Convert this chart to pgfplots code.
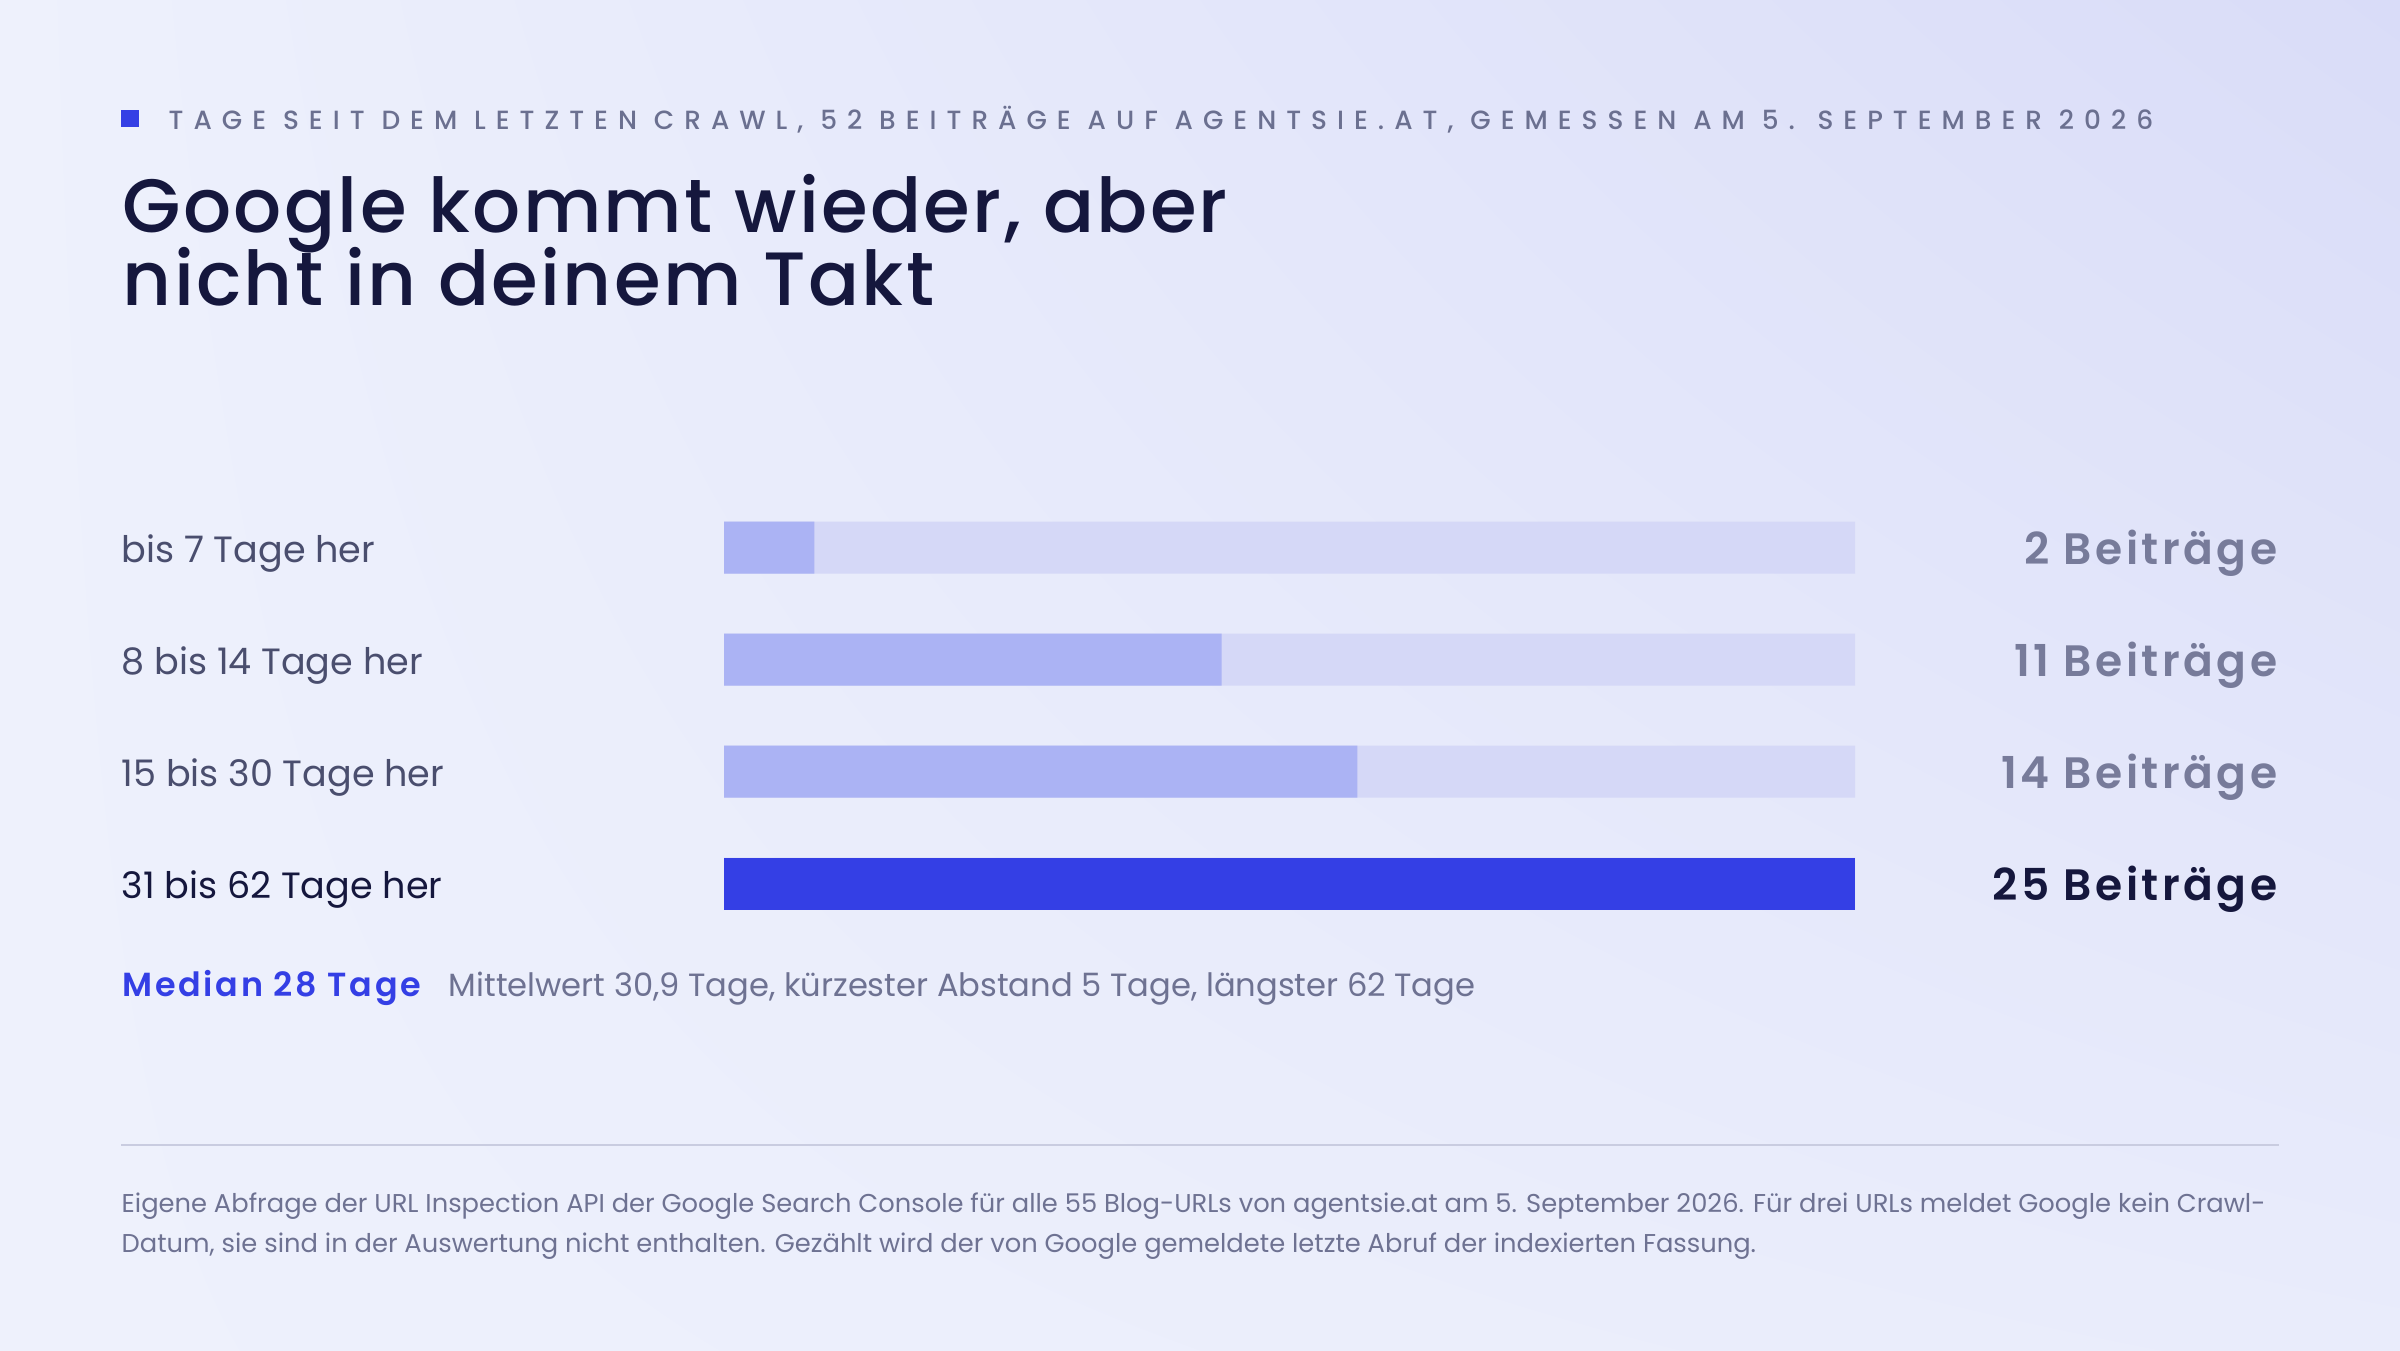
\documentclass[border=0pt]{standalone}
\usepackage{fontspec}
\usepackage{pgfplots}
\pgfplotsset{compat=1.18}
\usetikzlibrary{shadings}
\setmainfont{Poppins}
\newfontfamily\headfont[LetterSpace=38]{Poppins Medium}
\newfontfamily\titlefont[LetterSpace=3]{Poppins Medium}
\newfontfamily\valfont[LetterSpace=8]{Poppins SemiBold}
\newfontfamily\bodyfont{Poppins}

\definecolor{bgA}{HTML}{EEF1FC}
\definecolor{bgB}{HTML}{D9DCF8}
\definecolor{bgC}{HTML}{E9ECFB}
\definecolor{navy}{HTML}{15173D}
\definecolor{grayhead}{HTML}{6B7090}
\definecolor{graylab}{HTML}{4A4E6E}
\definecolor{grayval}{HTML}{777B9A}
\definecolor{graytxt}{HTML}{6E7292}
\definecolor{accent}{HTML}{343FE5}
\definecolor{track}{HTML}{D5D8F7}
\definecolor{lightbar}{HTML}{ABB3F4}
\definecolor{rulec}{HTML}{C9CCE0}

\pgfplotstableread{
row count
0 2
1 11
2 14
3 25
}\counts

\begin{document}
\begin{tikzpicture}
% background, 2400x1350 px -> 24cm x 13.5cm
\shade[upper left=bgA, upper right=bgB, lower left=bgA, lower right=bgC]
  (0,0) rectangle (24,13.5);

% header
\fill[accent] (1.21,12.23) rectangle (1.39,12.40);
\node[anchor=base west, inner sep=0, text=grayhead, font=\headfont\fontsize{7.5pt}{8pt}\selectfont]
  at (1.68,12.20) {TAGE SEIT DEM LETZTEN CRAWL, 52 BEITRÄGE AUF AGENTSIE.AT, GEMESSEN AM 5. SEPTEMBER 2026};

% title
\node[anchor=base west, inner sep=0, text=navy, font=\titlefont\fontsize{21.5pt}{26pt}\selectfont]
  at (1.22,11.17) {Google kommt wieder, aber};
\node[anchor=base west, inner sep=0, text=navy, font=\titlefont\fontsize{21.5pt}{26pt}\selectfont]
  at (1.22,10.44) {nicht in deinem Takt};

% bars
\begin{axis}[
  at={(12.895cm,6.345cm)}, anchor=center,
  scale only axis, width=11.31cm, height=4.48cm,
  xbar, bar width=0.52cm, bar shift=0pt,
  xmin=0, xmax=25, ymin=-0.5, ymax=3.5, y dir=reverse,
  axis line style={draw=none}, major tick length=0pt,
  xtick=\empty, ytick={0,1,2,3},
  yticklabels={
    \textcolor{graylab}{bis 7 Tage her},
    \textcolor{graylab}{8 bis 14 Tage her},
    \textcolor{graylab}{15 bis 30 Tage her},
    \textcolor{navy}{31 bis 62 Tage her}},
  yticklabel style={anchor=mid west, inner sep=0pt, xshift=-6.03cm, yshift=-0.05cm,
    font=\bodyfont\fontsize{10.4pt}{12pt}\selectfont},
  clip=false,
]
\addplot[draw=none, fill=track] coordinates {(25,0) (25,1) (25,2) (25,3)};
\addplot[draw=none, fill=lightbar] coordinates {(2,0) (11,1) (14,2)};
\addplot[draw=none, fill=accent] coordinates {(25,3)};
\end{axis}

% value labels on a twin axis
\begin{axis}[
  at={(12.895cm,6.345cm)}, anchor=center,
  scale only axis, width=11.31cm, height=4.48cm,
  xmin=0, xmax=25, ymin=-0.5, ymax=3.5, y dir=reverse,
  axis line style={draw=none}, major tick length=0pt,
  xtick=\empty, ytick={0,1,2,3}, yticklabel pos=right,
  yticklabels={
    \textcolor{grayval}{2 Beiträge},
    \textcolor{grayval}{11 Beiträge},
    \textcolor{grayval}{14 Beiträge},
    \textcolor{navy}{25 Beiträge}},
  yticklabel style={anchor=mid east, inner sep=0pt, xshift=4.23cm, yshift=-0.07cm,
    font=\valfont\fontsize{12.5pt}{14pt}\selectfont},
]
\addplot[draw=none, mark=none] table[x=count, y=row] {\counts};
\end{axis}

% summary line
\node[anchor=base west, inner sep=0, text=accent, font=\valfont\fontsize{9.5pt}{12pt}\selectfont]
  at (1.22,3.54) {Median 28 Tage};
\node[anchor=base west, inner sep=0, text=graytxt, font=\bodyfont\fontsize{9.15pt}{11pt}\selectfont]
  at (4.48,3.54) {Mittelwert 30,9 Tage, kürzester Abstand 5 Tage, längster 62 Tage};

% rule and footer
\draw[rulec, line width=0.6pt] (1.21,2.05) -- (22.79,2.05);
\node[anchor=base west, inner sep=0, text=graytxt, font=\bodyfont\fontsize{7.33pt}{9pt}\selectfont]
  at (1.21,1.38) {Eigene Abfrage der URL Inspection API der Google Search Console für alle 55 Blog-URLs von agentsie.at am 5. September 2026. Für drei URLs meldet Google kein Crawl-};
\node[anchor=base west, inner sep=0, text=graytxt, font=\bodyfont\fontsize{7.33pt}{9pt}\selectfont]
  at (1.21,0.98) {Datum, sie sind in der Auswertung nicht enthalten. Gezählt wird der von Google gemeldete letzte Abruf der indexierten Fassung.};
\end{tikzpicture}
\end{document}
